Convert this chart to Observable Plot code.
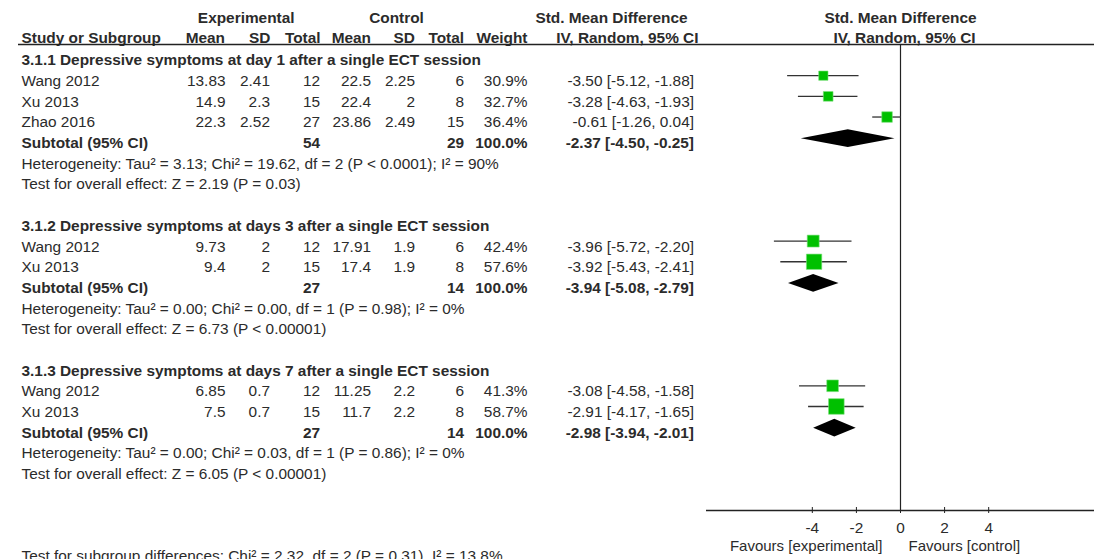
<!DOCTYPE html>
<html><head><meta charset="utf-8">
<script src="https://cdn.jsdelivr.net/npm/d3@7"></script>
<script src="https://cdn.jsdelivr.net/npm/@observablehq/plot@0.6"></script>
<style>
html,body{margin:0;padding:0;background:#fff;}
#chart svg{display:block;}
</style></head><body><div id="chart"></div>
<script>
// ---------- data ----------
const subgroupTitles = [
  "3.1.1 Depressive symptoms at day 1 after a single ECT session",
  "3.1.2 Depressive symptoms at days 3 after a single ECT session",
  "3.1.3 Depressive symptoms at days 7 after a single ECT session"
];
const studyNames = ["Wang 2012", "Xu 2013", "Zhao 2016", "Wang 2012", "Xu 2013", "Wang 2012", "Xu 2013"];
const studyGroup = [0, 0, 0, 1, 1, 2, 2];
const expMean = [13.83, 14.9, 22.3, 9.73, 9.4, 6.85, 7.5];
const expSD = [2.41, 2.3, 2.52, 2, 2, 0.7, 0.7];
const expN = [12, 15, 27, 12, 15, 12, 15];
const ctlMean = [22.5, 22.4, 23.86, 17.91, 17.4, 11.25, 11.7];
const ctlSD = [2.25, 2, 2.49, 1.9, 1.9, 2.2, 2.2];
const ctlN = [6, 8, 15, 6, 8, 6, 8];
const weight = [30.9, 32.7, 36.4, 42.4, 57.6, 41.3, 58.7];
const smd = [-3.50, -3.28, -0.61, -3.96, -3.92, -3.08, -2.91];
const ciLow = [-5.12, -4.63, -1.26, -5.72, -5.43, -4.58, -4.17];
const ciHigh = [-1.88, -1.93, 0.04, -2.20, -2.41, -1.58, -1.65];

const subExpN = [54, 27, 27];
const subCtlN = [29, 14, 14];
const subWeight = [100.0, 100.0, 100.0];
const subSmd = [-2.37, -3.94, -2.98];
const subLow = [-4.50, -5.08, -3.94];
const subHigh = [-0.25, -2.79, -2.01];
const heterogeneity = [
  "Heterogeneity: Tau² = 3.13; Chi² = 19.62, df = 2 (P < 0.0001); I² = 90%",
  "Heterogeneity: Tau² = 0.00; Chi² = 0.00, df = 1 (P = 0.98); I² = 0%",
  "Heterogeneity: Tau² = 0.00; Chi² = 0.03, df = 1 (P = 0.86); I² = 0%"
];
const overallEffect = [
  "Test for overall effect: Z = 2.19 (P = 0.03)",
  "Test for overall effect: Z = 6.73 (P < 0.00001)",
  "Test for overall effect: Z = 6.05 (P < 0.00001)"
];
const subgroupDiff = "Test for subgroup differences: Chi² = 2.32, df = 2 (P = 0.31), I² = 13.8%";
const xTicks = [-4, -2, 0, 2, 4];
const favourLeft = "Favours [experimental]";
const favourRight = "Favours [control]";

// ---------- layout ----------
const W = 1094, H = 559, ML = 18;
const rowPx0 = 60, rowStep = 20.675;
const rowAt = px => (px - rowPx0) / rowStep;
const xDomain = [-8.8, 8.8];
const INK = "#2b2b2b";
const FS = 15.4;
const FONT = "'Liberation Sans', Arial, Helvetica, sans-serif";
const markerDy = -5.5;

// build table rows
const groupRows = [], studyRows = [], subRows = [], noteRows = [];
let r = 0;
for (let g = 0; g < subgroupTitles.length; g++) {
  groupRows.push({row: r, text: subgroupTitles[g]}); r++;
  studyNames.forEach((name, i) => {
    if (studyGroup[i] !== g) return;
    studyRows.push({row: r, name, em: expMean[i], es: expSD[i], en: expN[i], cm: ctlMean[i], cs: ctlSD[i], cn: ctlN[i],
      w: weight[i], smd: smd[i], lo: ciLow[i], hi: ciHigh[i]});
    r++;
  });
  subRows.push({row: r, g, en: subExpN[g], cn: subCtlN[g], w: subWeight[g], smd: subSmd[g], lo: subLow[g], hi: subHigh[g]}); r++;
  noteRows.push({row: r, text: heterogeneity[g]}); r++;
  noteRows.push({row: r, text: overallEffect[g]}); r++;
  r++;
}
const ciText = d => `${d.smd.toFixed(2)} [${d.lo.toFixed(2)}, ${d.hi.toFixed(2)}]`;
const diamonds = subRows.flatMap(d => [
  {g: d.g, x: d.lo, y1: d.row, y2: d.row},
  {g: d.g, x: d.smd, y1: d.row - 0.43, y2: d.row + 0.43},
  {g: d.g, x: d.hi, y1: d.row, y2: d.row}
]);

// text column helper: anchored at frame left plus a layout offset
const col = (data, px, anchor, opts) => Plot.text(data, {
  frameAnchor: "left", dx: px - ML, textAnchor: anchor, fill: INK, fontSize: FS, ...opts
});

const hdr1 = rowAt(17.8), hdr2 = rowAt(37.8);
const lineRow = rowAt(44), axisRow = rowAt(510);

const chart = Plot.plot({
  width: W, height: H,
  marginLeft: ML, marginRight: 0, marginTop: 0, marginBottom: H - 510,
  style: {fontFamily: FONT, fontSize: FS + "px", color: INK, background: "#fff"},
  x: {domain: xDomain, range: [706, W], axis: null},
  y: {domain: [0, 20], range: [rowPx0, rowPx0 + 20 * rowStep], axis: null},
  r: {type: "linear", domain: [0, 100], range: [1.3, 14.1]},
  marks: [
    // header rows
    col([{row: hdr1}], 245.7, "middle", {y: "row", text: () => "Experimental", fontWeight: "bold"}),
    col([{row: hdr1}], 396, "middle", {y: "row", text: () => "Control", fontWeight: "bold"}),
    col([{row: hdr1}], 611, "middle", {y: "row", text: () => "Std. Mean Difference", fontWeight: "bold"}),
    col([{row: hdr1}], 900, "middle", {y: "row", text: () => "Std. Mean Difference", fontWeight: "bold"}),
    col([{row: hdr2}], 21, "start", {y: "row", text: () => "Study or Subgroup", fontWeight: "bold"}),
    col([{row: hdr2}], 224.5, "end", {y: "row", text: () => "Mean", fontWeight: "bold"}),
    col([{row: hdr2}], 270, "end", {y: "row", text: () => "SD", fontWeight: "bold"}),
    col([{row: hdr2}], 320, "end", {y: "row", text: () => "Total", fontWeight: "bold"}),
    col([{row: hdr2}], 370.5, "end", {y: "row", text: () => "Mean", fontWeight: "bold"}),
    col([{row: hdr2}], 414.5, "end", {y: "row", text: () => "SD", fontWeight: "bold"}),
    col([{row: hdr2}], 463.5, "end", {y: "row", text: () => "Total", fontWeight: "bold"}),
    col([{row: hdr2}], 527, "end", {y: "row", text: () => "Weight", fontWeight: "bold"}),
    col([{row: hdr2}], 698, "end", {y: "row", text: () => "IV, Random, 95% CI", fontWeight: "bold"}),
    col([{row: hdr2}], 904, "middle", {y: "row", text: () => "IV, Random, 95% CI", fontWeight: "bold"}),
    Plot.ruleY([lineRow], {stroke: "#222", strokeWidth: 1.3}),

    // subgroup titles
    col(groupRows, 21, "start", {y: "row", text: "text", fontWeight: "bold"}),
    // study rows
    col(studyRows, 21, "start", {y: "row", text: "name"}),
    col(studyRows, 225, "end", {y: "row", text: d => String(d.em)}),
    col(studyRows, 269.5, "end", {y: "row", text: d => String(d.es)}),
    col(studyRows, 319.5, "end", {y: "row", text: d => String(d.en)}),
    col(studyRows, 370.5, "end", {y: "row", text: d => String(d.cm)}),
    col(studyRows, 414.5, "end", {y: "row", text: d => String(d.cs)}),
    col(studyRows, 463.5, "end", {y: "row", text: d => String(d.cn)}),
    col(studyRows, 527, "end", {y: "row", text: d => d.w.toFixed(1) + "%"}),
    col(studyRows, 693.5, "end", {y: "row", text: ciText}),
    // subtotal rows
    col(subRows, 21, "start", {y: "row", text: () => "Subtotal (95% CI)", fontWeight: "bold"}),
    col(subRows, 319.5, "end", {y: "row", text: d => String(d.en), fontWeight: "bold"}),
    col(subRows, 463.5, "end", {y: "row", text: d => String(d.cn), fontWeight: "bold"}),
    col(subRows, 527, "end", {y: "row", text: d => d.w.toFixed(1) + "%", fontWeight: "bold"}),
    col(subRows, 693.5, "end", {y: "row", text: ciText, fontWeight: "bold"}),
    // notes
    col(noteRows, 21, "start", {y: "row", text: "text"}),
    col([{row: rowAt(555.5)}], 21, "start", {y: "row", text: () => subgroupDiff}),

    // forest plot
    Plot.ruleX([0], {y1: lineRow, y2: axisRow, stroke: "#222", strokeWidth: 1.2}),
    Plot.ruleY(studyRows, {y: "row", x1: "lo", x2: "hi", dy: markerDy, stroke: "#333", strokeWidth: 1.3}),
    Plot.dot(studyRows, {x: "smd", y: "row", r: "w", symbol: "square", fill: "#00c000", stroke: "#7ee07e", strokeWidth: 0.6, dy: markerDy}),
    Plot.area(diamonds, {x1: "x", y1: "y1", y2: "y2", z: "g", fill: "#000", dy: markerDy + 1}),

    // x axis
    Plot.ruleY([axisRow], {x1: xDomain[0], x2: xDomain[1], stroke: "#222", strokeWidth: 1.3}),
    Plot.axisX({ticks: xTicks, tickSize: 6, tickPadding: 9, dy: -3, stroke: "#222", fill: INK, fontSize: FS, label: null, tickFormat: d => d < 0 ? "-" + Math.abs(d) : String(d)}),
    col([{row: rowAt(546)}], 882, "end", {y: "row", text: () => favourLeft, fontSize: 15}),
    col([{row: rowAt(546)}], 908, "start", {y: "row", text: () => favourRight, fontSize: 15})
  ]
});
document.getElementById("chart").append(chart);
</script>
</body></html>
